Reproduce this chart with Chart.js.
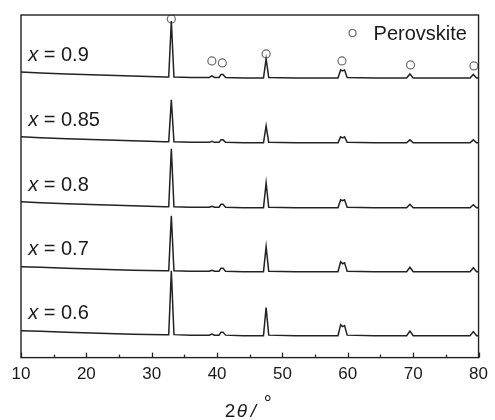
<!DOCTYPE html>
<html>
<head>
<meta charset="utf-8">
<script src="https://cdn.jsdelivr.net/npm/chart.js@4.4.0/dist/chart.umd.min.js"></script>
<style>
  html, body { margin: 0; padding: 0; background: #fff; }
  #wrap { width: 495px; height: 420px; }
</style>
</head>
<body>
<div id="wrap"><canvas id="xrd" width="495" height="420"></canvas></div>
<script>
// 2theta positions (deg) shared by all patterns
const twoTheta = [10, 13, 17, 22, 27, 32, 32.6, 33.0, 33.4, 36, 38.8, 39.2, 39.6, 40.3, 40.6, 40.9, 41.3, 44,
    47.1, 47.5, 47.9, 52, 58.5, 58.9, 59.2, 59.5, 59.9, 64, 69.0, 69.5, 70.0, 75, 78.7, 79.2, 79.7, 80];

// relative intensities, bottom to top
const sampleLabels = ['0.6', '0.7', '0.8', '0.85', '0.9'];
const offsets = [22, 86, 150, 215, 280];
const intensity06 = [5, 4.5, 3.5, 2.5, 1.5, 1, 1, 65, 1, 0.5, 0.5, 1.5, 0.5, 0.5, 3.5, 3.5, 0.5, 0,
    0, 28, 0.5, 0, 0, 11, 9, 10, 0.5, 0, 0, 4.5, 0, 0, 0, 4, 0, 0];
const intensity07 = [5, 4.5, 3.5, 2.5, 1.5, 1, 1, 56, 1, 0.5, 0.5, 1.5, 0.5, 0.5, 3.5, 3.5, 0.5, 0,
    0, 25, 0.5, 0, 0, 10, 8, 9, 0.5, 0, 0, 4.5, 0, 0, 0, 4, 0, 0];
const intensity08 = [6, 5, 4, 3, 2, 1, 1, 59, 1, 0.5, 0.5, 1.5, 0.5, 0.5, 3.5, 3.5, 0.5, 0,
    0, 25, 0.5, 0, 0, 8, 7, 8, 0.5, 0, 0, 3.5, 0, 0, 0, 3, 0, 0];
const intensity085 = [6, 5, 4, 3, 2, 1, 1, 43, 1, 0.5, 0.5, 1.5, 0.5, 0.5, 3, 3, 0.5, 0,
    0, 17, 0.5, 0, 0, 6, 5, 6, 0.5, 0, 0, 3, 0, 0, 0, 3, 0, 0];
const intensity09 = [6, 5, 4, 3, 2, 1, 1, 57, 1, 0.5, 0.5, 2, 0.5, 0.5, 3.5, 3.5, 0.5, 0,
    0, 19, 0.5, 0, 0, 8, 7, 8, 0.5, 0, 0, 4, 0, 0, 0, 3.5, 0, 0];
const intensities = [intensity06, intensity07, intensity08, intensity085, intensity09];

// perovskite markers above the top pattern
const markerTheta = [33.0, 39.2, 40.8, 47.5, 59.1, 69.6, 79.3];
const markerY = [339, 297, 295, 304, 297, 293, 292];

const xTicks = [10, 20, 30, 40, 50, 60, 70, 80];

const lineColor = '#222';
const textColor = '#1a1a1a';
const sans = '"Liberation Sans", Arial, sans-serif';

const datasets = intensities.map((arr, i) => ({
    label: 'x = ' + sampleLabels[i],
    data: twoTheta.map((t, j) => ({ x: t, y: offsets[i] + arr[j] })),
    showLine: true,
    borderColor: lineColor,
    borderWidth: 1.5,
    pointRadius: 0,
    tension: 0
}));

datasets.push({
    label: 'Perovskite',
    data: markerTheta.map((t, j) => ({ x: t, y: markerY[j] })),
    showLine: false,
    pointRadius: 4,
    pointBorderWidth: 1.2,
    pointBorderColor: '#6a6a6a',
    pointBackgroundColor: '#fff'
});

// frame, inward ticks, labels, legend and axis title
const decorations = {
    id: 'decorations',
    afterDraw(chart) {
        const ctx = chart.ctx;
        const area = chart.chartArea;
        const xs = chart.scales.x;
        const ys = chart.scales.y;
        ctx.save();

        ctx.strokeStyle = lineColor;
        ctx.lineWidth = 1.4;
        ctx.strokeRect(area.left, area.top, area.right - area.left, area.bottom - area.top);

        ctx.lineWidth = 1.3;
        for (let v = 10; v <= 80; v += 5) {
            const px = Math.round(xs.getPixelForValue(v)) + 0.5;
            const len = v % 10 === 0 ? 5 : 3;
            ctx.beginPath();
            ctx.moveTo(px, area.bottom);
            ctx.lineTo(px, area.bottom - len);
            ctx.stroke();
        }

        ctx.fillStyle = textColor;
        ctx.textBaseline = 'alphabetic';
        ctx.textAlign = 'left';
        sampleLabels.forEach((s, i) => {
            const px = xs.getPixelForValue(11.1);
            const py = ys.getPixelForValue(offsets[i] + 17);
            ctx.font = 'italic 20px ' + sans;
            ctx.fillText('x', px, py);
            const w = ctx.measureText('x').width;
            ctx.font = '20px ' + sans;
            ctx.fillText(' = ' + s, px + w, py);
        });

        // legend
        const lx = area.right - 126;
        const ly = area.top + 18;
        ctx.strokeStyle = '#6a6a6a';
        ctx.lineWidth = 1.2;
        ctx.beginPath();
        ctx.arc(lx, ly, 3.5, 0, Math.PI * 2);
        ctx.stroke();
        ctx.font = '20px ' + sans;
        ctx.textBaseline = 'middle';
        ctx.fillText('Perovskite', lx + 21, ly + 1);

        // axis title 2θ/°
        ctx.textBaseline = 'alphabetic';
        const cx = (area.left + area.right) / 2;
        const by = 417;
        ctx.font = '19px ' + sans;
        ctx.fillText('2', cx - 25, by);
        ctx.font = 'italic 19px ' + sans;
        ctx.fillText('θ', cx - 13, by);
        ctx.fillText('/', cx + 1, by);
        ctx.font = '20px ' + sans;
        ctx.fillText('°', cx + 14, by - 7);

        ctx.restore();
    }
};

new Chart(document.getElementById('xrd'), {
    type: 'scatter',
    data: { datasets: datasets },
    options: {
        responsive: false,
        animation: false,
        layout: { padding: { left: 21, right: 13, top: 15, bottom: 28 } },
        plugins: {
            legend: { display: false },
            tooltip: { enabled: false }
        },
        scales: {
            x: {
                type: 'linear',
                min: 10,
                max: 80,
                afterBuildTicks: (axis) => { axis.ticks = xTicks.map(v => ({ value: v })); },
                ticks: {
                    color: textColor,
                    font: { size: 17, family: sans },
                    padding: 7,
                    maxRotation: 0
                },
                grid: { display: false, drawTicks: false },
                border: { display: false }
            },
            y: {
                min: 0,
                max: 343,
                ticks: { display: false },
                grid: { display: false, drawTicks: false },
                border: { display: false }
            }
        }
    },
    plugins: [decorations]
});
</script>
</body>
</html>
